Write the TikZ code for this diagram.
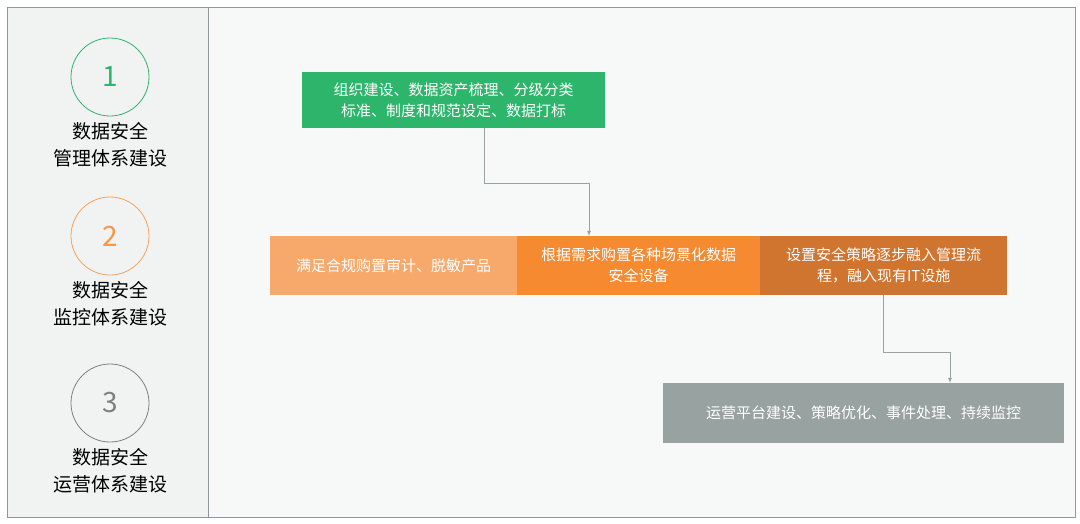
\documentclass[tikz,border=0pt]{standalone}
\usepackage{fontspec}
\setmainfont{Noto Sans CJK SC}
\usetikzlibrary{positioning}
\definecolor{stepgreen}{HTML}{2DB56B}
\definecolor{steplight}{HTML}{F7A96B}
\definecolor{stepmid}{HTML}{F68A30}
\definecolor{stepdark}{HTML}{D07530}
\definecolor{stepgray}{HTML}{98A2A0}
\definecolor{framegray}{HTML}{8E9898}
\tikzset{
  phase/.style={circle,thick,draw,minimum size=78pt,inner sep=0pt,font=\fontsize{28}{30}\selectfont},
  phaselabel/.style={align=center,font=\fontsize{19}{27}\selectfont},
  task/.style={anchor=north west,inner sep=0pt,text=white,align=center,font=\fontsize{15}{21}\selectfont},
  flow/.style={draw=stepgray,thick,-latex}
}
\begin{document}
\begin{tikzpicture}[x=1pt,y=-1pt]
  \useasboundingbox (0,0) rectangle (1080,523);
  \fill[white] (0,0) rectangle (1080,523);
  % panels
  \fill[color={rgb,255:red,241;green,243;blue,243}] (7,7) rectangle (208,517);
  \fill[color={rgb,255:red,247;green,249;blue,249}] (208,7) rectangle (1075,517);
  \draw[framegray,thick] (7,7) rectangle (1075,517);
  \draw[framegray] (208,7) -- (208,517);
  % phases
  \node[phase,draw=stepgreen,text=stepgreen] (p1) at (110,77) {1};
  \node[phase,draw=stepmid!80,text=stepmid!90] (p2) at (110,236) {2};
  \node[phase,draw=gray,text=gray] (p3) at (110,403) {3};
  \node[phaselabel,below=2pt of p1] (l1) {数据安全\\管理体系建设};
  \node[phaselabel,below=2pt of p2] (l2) {数据安全\\监控体系建设};
  \node[phaselabel,below=2pt of p3] (l3) {数据安全\\运营体系建设};
  % tasks
  \node[task,fill=stepgreen,minimum width=303pt,minimum height=56pt] (t1) at (302,72) {组织建设、数据资产梳理、分级分类\\标准、制度和规范设定、数据打标};
  \node[task,fill=steplight,minimum width=247pt,minimum height=59pt] (t2) at (270,236) {满足合规购置审计、脱敏产品};
  \node[task,fill=stepmid,minimum width=243pt,minimum height=59pt] (t3) at (517,236) {根据需求购置各种场景化数据\\安全设备};
  \node[task,fill=stepdark,minimum width=247pt,minimum height=59pt] (t4) at (760,236) {设置安全策略逐步融入管理流\\程，融入现有IT设施};
  \node[task,fill=stepgray,minimum width=401pt,minimum height=60pt] (t5) at (663,383) {运营平台建设、策略优化、事件处理、持续监控};
  % connectors
  \coordinate (a1) at (484,183);
  \coordinate (a2) at (883,352);
  \draw[flow] (t1.south -| a1) -- (a1) -- (a1 -| 589,0) -- (t3.north -| 589,0);
  \draw[flow] (t4.south -| a2) -- (a2) -- (a2 -| 950,0) -- (t5.north -| 950,0);
\end{tikzpicture}
\end{document}
